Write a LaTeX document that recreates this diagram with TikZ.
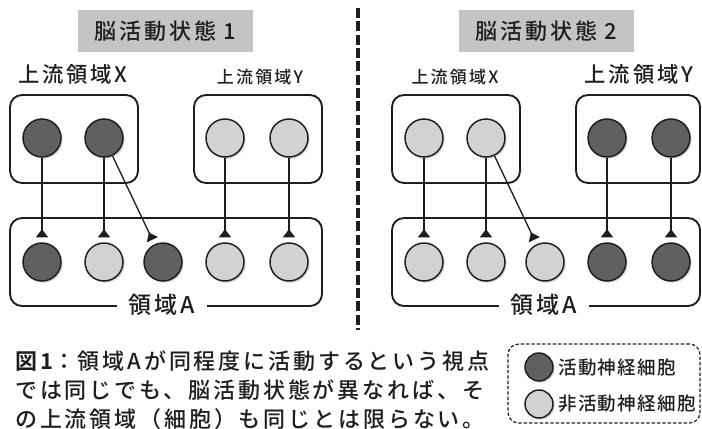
\documentclass[tikz,border=0pt]{standalone}
\usepackage{fontspec}
\usetikzlibrary{arrows.meta,shadows}
\IfFontExistsTF{Noto Sans CJK JP Medium}{%
  \newfontfamily\jp{Noto Sans CJK JP Medium}[LetterSpace=13]
  \newfontfamily\jpl{Noto Sans CJK JP Medium}[LetterSpace=7]
}{%
  \newfontfamily\jp{Noto Sans CJK JP}[LetterSpace=13, FakeBold=0.4]
  \newfontfamily\jpl{Noto Sans CJK JP}[LetterSpace=7, FakeBold=0.4]
}
\newfontfamily\jpb{Noto Sans CJK JP Bold}[LetterSpace=13]
\definecolor{actc}{HTML}{606060}
\definecolor{inac}{HTML}{D2D2D2}
\definecolor{titlegray}{HTML}{C4C4C4}
\definecolor{ink}{HTML}{1E1E1E}
\begin{document}
\begin{tikzpicture}[x=0.75pt,y=-0.75pt,
  neuron/.style={circle, draw=ink, line width=1.1pt, minimum size=28.5pt, inner sep=0pt,
    drop shadow={shadow xshift=1.2pt, shadow yshift=-1.2pt, opacity=0.35}},
  act/.style={neuron, fill=actc},
  ina/.style={neuron, fill=inac},
  lact/.style={act, minimum size=21pt},
  lina/.style={ina, minimum size=21pt},
  region/.style={draw=ink, line width=1.4pt, rounded corners=9pt, inner sep=0pt},
  titlebox/.style={fill=titlegray, minimum width=131pt, minimum height=31.5pt, inner sep=0pt,
    font=\jp\fontsize{16.5pt}{19pt}\selectfont, text=ink},
  biglab/.style={inner sep=0pt, font=\jp\fontsize{16pt}{19pt}\selectfont, text=ink},
  smalllab/.style={inner sep=0pt, font=\jp\fontsize{12.75pt}{15pt}\selectfont, text=ink},
  alab/.style={fill=white, inner xsep=9pt, inner ysep=0pt, font=\jp\fontsize{17.25pt}{20pt}\selectfont, text=ink},
  conn/.style={draw=ink, line width=1pt, -{Triangle[reversed, width=9pt, length=6pt]}, shorten >=3.75pt},
  legtext/.style={anchor=west, inner sep=0pt, font=\jpl\fontsize{13.9pt}{16pt}\selectfont, text=ink},
  legbox/.style={draw=ink, line width=0.9pt, dash pattern=on 2.5pt off 1.5pt, rounded corners=8pt,
    minimum width=144pt, minimum height=59.25pt, inner sep=0pt},
  divider/.style={draw=ink, line width=2.6pt, dash pattern=on 7.5pt off 2.5pt}
]
\useasboundingbox (0,0) rectangle (702,428);
\clip (0,0) rectangle (702,428);

% ---------- state 1 ----------
\node[titlebox] (t1) at (165.5,31) {脳活動状態 1};
\node[biglab] (lx1) at (73,74) {上流領域X};
\node[smalllab] (ly1) at (260,77) {上流領域Y};
\node[region, minimum width=96pt, minimum height=66pt] (bx1) at (74,139) {};
\node[region, minimum width=96pt, minimum height=66pt] (by1) at (258,139) {};
\node[region, minimum width=234pt, minimum height=66pt] (ba1) at (166,262) {};
\node[alab] (la1) at (162,305) {領域A};

\node[act] (ux11) at (42,138) {};
\node[act] (ux12) at (104,138) {};
\node[ina] (uy11) at (225,138) {};
\node[ina] (uy12) at (289,138) {};
\node[act] (b11) at (42,262) {};
\node[ina] (b12) at (104,262) {};
\node[act] (b13) at (163,262) {};
\node[ina] (b14) at (225,262) {};
\node[ina] (b15) at (289,262) {};

\draw[conn] (ux11) -- (b11);
\draw[conn] (ux12) -- (b12);
\draw[conn] (ux12) -- (b13);
\draw[conn] (uy11) -- (b14);
\draw[conn] (uy12) -- (b15);

% ---------- divider ----------
\coordinate (dtop) at (358,8);
\coordinate (dbot) at (358,330);
\draw[divider] (dtop) -- (dbot);

% ---------- state 2 ----------
\node[titlebox] (t2) at (546.5,31) {脳活動状態 2};
\node[smalllab] (lx2) at (455,77) {上流領域X};
\node[biglab] (ly2) at (639,74) {上流領域Y};
\node[region, minimum width=96pt, minimum height=66pt] (bx2) at (456,139) {};
\node[region, minimum width=93pt, minimum height=66pt] (by2) at (638,139) {};
\node[region, minimum width=231pt, minimum height=66pt] (ba2) at (546,262) {};
\node[alab] (la2) at (544,305) {領域A};

\node[ina] (ux21) at (424,138) {};
\node[ina] (ux22) at (486,138) {};
\node[act] (uy21) at (607,138) {};
\node[act] (uy22) at (671,138) {};
\node[ina] (b21) at (424,262) {};
\node[ina] (b22) at (486,262) {};
\node[ina] (b23) at (545,262) {};
\node[act] (b24) at (607,262) {};
\node[act] (b25) at (671,262) {};

\draw[conn] (ux21) -- (b21);
\draw[conn] (ux22) -- (b22);
\draw[conn] (ux22) -- (b23);
\draw[conn] (uy21) -- (b24);
\draw[conn] (uy22) -- (b25);

% ---------- caption ----------
\node[anchor=north west, align=left, inner sep=0pt, text=ink,
      font=\jp\fontsize{16.5pt}{22pt}\selectfont] (cap) at (15,350)
  {{\jpb 図1}：領域Aが同程度に活動するという視点\\
   では同じでも、脳活動状態が異なれば、そ\\
   の上流領域（細胞）も同じとは限らない。};

% ---------- legend ----------
\node[legbox] (leg) at (604,383.5) {};
\node[lact] (la) at (539,367) {};
\node[lina] (li) at (539,404) {};
\node[legtext] (lat) at (558,367) {活動神経細胞};
\node[legtext] (lit) at (558,404) {非活動神経細胞};
\end{tikzpicture}
\end{document}
